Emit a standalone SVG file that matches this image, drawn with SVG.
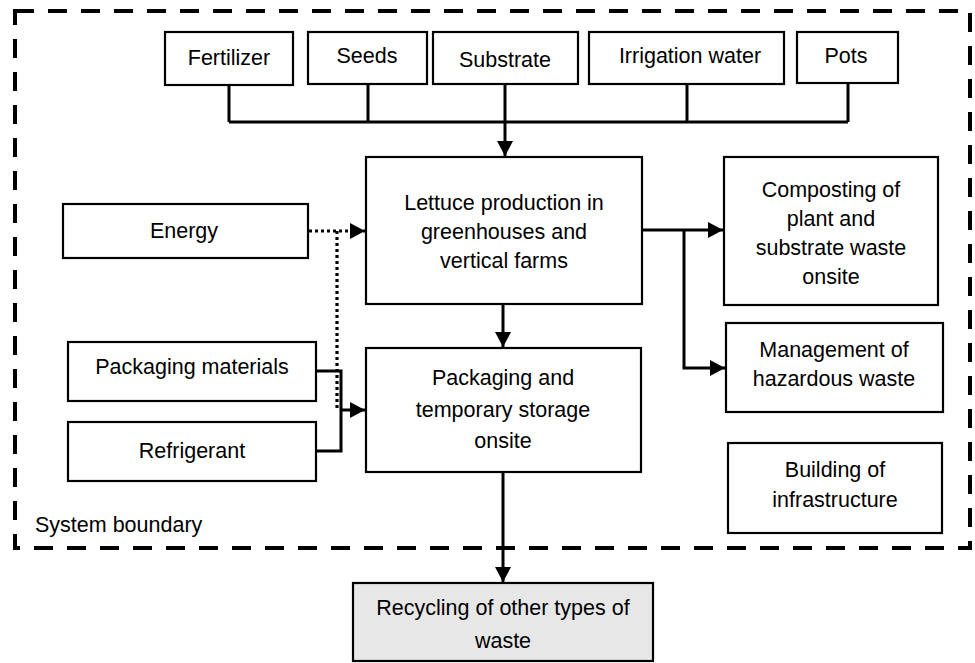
<svg xmlns="http://www.w3.org/2000/svg" width="975" height="663" viewBox="0 0 975 663">
<style>
.box{fill:#fff;stroke:#000;stroke-width:2.2}
.gray{fill:#e7e7e7}
text{font-family:"Liberation Sans",Arial,sans-serif;font-size:21.5px;fill:#000;text-anchor:middle}
.c{fill:none;stroke:#000;stroke-width:3}
.d{fill:none;stroke:#000;stroke-width:3.2;stroke-dasharray:3 3}
</style>
<defs>
<marker id="ah" markerUnits="userSpaceOnUse" markerWidth="16" markerHeight="18" refX="15" refY="8" orient="auto">
<path d="M0,0 L15,8 L0,16 Z" fill="#000"/>
</marker>
</defs>
<rect x="15" y="11" width="955" height="537" fill="none" stroke="#000" stroke-width="4" stroke-dasharray="19 14"/>
<text x="35" y="532" style="text-anchor:start">System boundary</text>

<g id="connectors">
<path class="c" d="M229,85 V122 M368,84 V122 M505,84 V122 M687,84 V122 M848,83 V122 M229,122 H848"/>
<path class="c" d="M505,122 V156" marker-end="url(#ah)"/>
<path class="c" d="M642,230 H723" marker-end="url(#ah)"/>
<path class="c" d="M684,230 V368 H725" marker-end="url(#ah)"/>
<path class="c" d="M503,304 V347" marker-end="url(#ah)"/>
<path class="d" d="M309,231 H365" marker-end="url(#ah)"/>
<path class="d" d="M337,231 V410"/>
<path class="c" d="M316,371 H341 V451 H316"/>
<path class="c" d="M341,410 H365" marker-end="url(#ah)"/>
<path class="c" d="M503,472 V582" marker-end="url(#ah)"/>
</g>

<g id="fertilizer"><rect class="box" x="165" y="32" width="128" height="53"/><text x="229" y="65">Fertilizer</text></g>
<g id="seeds"><rect class="box" x="308" y="32" width="119" height="52"/><text x="367" y="63">Seeds</text></g>
<g id="substrate"><rect class="box" x="433" y="32" width="145" height="52"/><text x="505" y="67">Substrate</text></g>
<g id="irrigation"><rect class="box" x="589" y="32" width="195" height="52"/><text x="690" y="63">Irrigation water</text></g>
<g id="pots"><rect class="box" x="797" y="32" width="101" height="51"/><text x="846" y="63">Pots</text></g>

<g id="lettuce"><rect class="box" x="366" y="157" width="276" height="147"/>
<text x="504" y="210">Lettuce production in</text>
<text x="504" y="239">greenhouses and</text>
<text x="504" y="268">vertical farms</text></g>

<g id="composting"><rect class="box" x="724" y="157" width="214" height="148"/>
<text x="831" y="197">Composting of</text>
<text x="831" y="226">plant and</text>
<text x="831" y="255">substrate waste</text>
<text x="831" y="284">onsite</text></g>

<g id="hazardous"><rect class="box" x="726" y="323" width="217" height="89"/>
<text x="834" y="357">Management of</text>
<text x="834" y="386">hazardous waste</text></g>

<g id="infrastructure"><rect class="box" x="728" y="443" width="214" height="90"/>
<text x="835" y="477">Building of</text>
<text x="835" y="507">infrastructure</text></g>

<g id="energy"><rect class="box" x="63" y="204" width="245" height="54"/><text x="184" y="238">Energy</text></g>
<g id="packmat"><rect class="box" x="68" y="342" width="248" height="59"/><text x="192" y="374">Packaging materials</text></g>
<g id="refrigerant"><rect class="box" x="68" y="422" width="248" height="59"/><text x="192" y="458">Refrigerant</text></g>

<g id="packaging"><rect class="box" x="366" y="348" width="275" height="124"/>
<text x="503" y="385">Packaging and</text>
<text x="503" y="417">temporary storage</text>
<text x="503" y="448">onsite</text></g>

<g id="recycling"><rect class="box gray" x="353" y="583" width="300" height="78"/>
<text x="503" y="615">Recycling of other types of</text>
<text x="503" y="648">waste</text></g>
</svg>
